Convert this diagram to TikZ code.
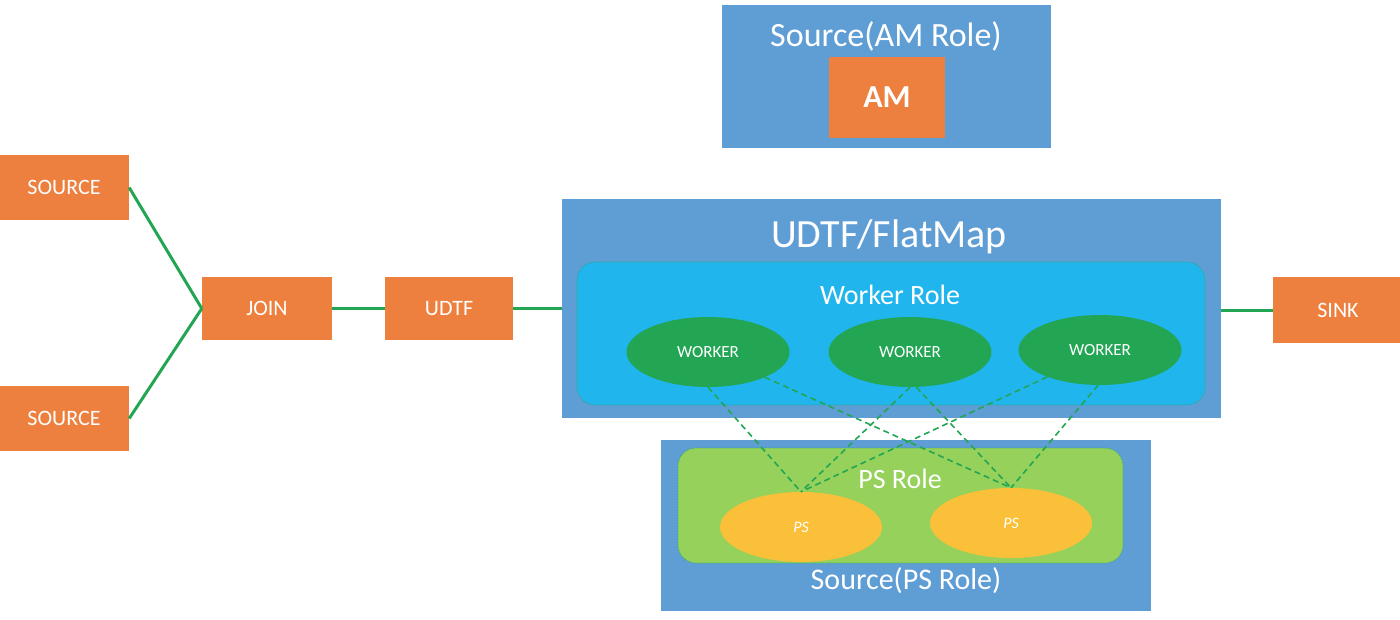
\documentclass[tikz,border=0pt]{standalone}
\usepackage{fontspec}
\setmainfont{Carlito}
\usetikzlibrary{shapes.geometric}
\definecolor{boxblue}{RGB}{95,158,213}
\definecolor{boxorange}{RGB}{237,128,62}
\definecolor{rolecyan}{RGB}{33,181,238}
\definecolor{wgreen}{RGB}{34,166,84}
\definecolor{psgreen}{RGB}{149,209,91}
\definecolor{psyellow}{RGB}{251,192,58}
\definecolor{linegreen}{RGB}{34,166,84}
\tikzset{
  container/.style={draw=none,fill=boxblue,inner sep=0pt},
  opbox/.style={draw=none,fill=boxorange,inner sep=0pt,text=white,font=\fontsize{22}{25}\selectfont},
  rolebox/.style={draw=linegreen,line width=0.6pt,densely dotted,rounded corners=18pt,inner sep=0pt},
  worker/.style={ellipse,fill=wgreen,draw=none,inner sep=0pt,minimum width=163pt,minimum height=70pt,text=white,font=\fontsize{17}{20}\selectfont},
  psnode/.style={ellipse,fill=psyellow,draw=none,inner sep=0pt,minimum width=162pt,minimum height=70pt,text=white,font=\itshape\fontsize{16}{19}\selectfont},
  title/.style={text=white,inner sep=0pt},
  link/.style={draw=linegreen,line width=3pt},
  dlink/.style={draw=linegreen,line width=1.6pt,dashed,dash pattern=on 6pt off 4pt}
}
\begin{document}
\begin{tikzpicture}[x=1pt,y=-1pt]
\useasboundingbox (0,0) rectangle (1400,619);
% AM source
\node[container,minimum width=329pt,minimum height=143pt] (amBox) at (886.5,76.5) {};
\node[title,font=\fontsize{34}{38}\selectfont] (amTitle) at (886,36) {Source(AM Role)};
\node[opbox,minimum width=116pt,minimum height=81pt,font=\bfseries\fontsize{32}{36}\selectfont] (am) at (887,97.5) {AM};
% left pipeline
\node[opbox,minimum width=130pt,minimum height=65pt] (src1) at (64,187.5) {SOURCE};
\node[opbox,minimum width=130pt,minimum height=65pt] (src2) at (64,418.5) {SOURCE};
\node[opbox,minimum width=130pt,minimum height=63pt] (join) at (267,308.5) {JOIN};
\node[opbox,minimum width=128pt,minimum height=63pt] (udtf) at (449,308.5) {UDTF};
\node[opbox,minimum width=130pt,minimum height=66pt] (sink) at (1338,310) {SINK};
% UDTF/FlatMap container
\node[container,minimum width=659pt,minimum height=219pt] (flat) at (891.5,308.5) {};
\node[title,font=\fontsize{40}{44}\selectfont] (flatTitle) at (889,237) {UDTF/FlatMap};
\node[rolebox,fill=rolecyan,minimum width=628pt,minimum height=143pt] (wrole) at (891,333.5) {};
\node[title,font=\fontsize{28}{32}\selectfont] (wroleTitle) at (890,295) {Worker Role};
\node[worker] (w1) at (708,352) {WORKER};
\node[worker] (w2) at (910,352) {WORKER};
\node[worker] (w3) at (1100,350) {WORKER};
% PS container
\node[container,minimum width=490pt,minimum height=171pt] (psBox) at (906,525.5) {};
\node[rolebox,fill=psgreen,minimum width=445pt,minimum height=115pt] (psrole) at (900.5,505.5) {};
\node[title,font=\fontsize{28}{32}\selectfont] (psroleTitle) at (900,479) {PS Role};
\node[title,font=\fontsize{30}{34}\selectfont] (psTitle) at (906,581) {Source(PS Role)};
\node[psnode] (ps1) at (801,527) {PS};
\node[psnode] (ps2) at (1011,523) {PS};
% solid connectors
\draw[link] (src1.east) -- (join.west);
\draw[link] (src2.east) -- (join.west);
\draw[link] (join.east) -- (udtf.west);
\draw[link] (udtf.east) -- (flat.west);
\draw[link] (sink.west) -- (sink.west -| flat.east);
% dashed connectors
\draw[dlink] (w1.south) -- (ps1.north);
\draw[dlink] (w1.-24) -- (ps2.north);
\draw[dlink] (w2.-90) -- (ps1.north);
\draw[dlink] (w2.-80) -- (ps2.north);
\draw[dlink] (w3.-153) -- (ps1.north);
\draw[dlink] (w3.-93) -- (ps2.north);
\end{tikzpicture}
\end{document}
